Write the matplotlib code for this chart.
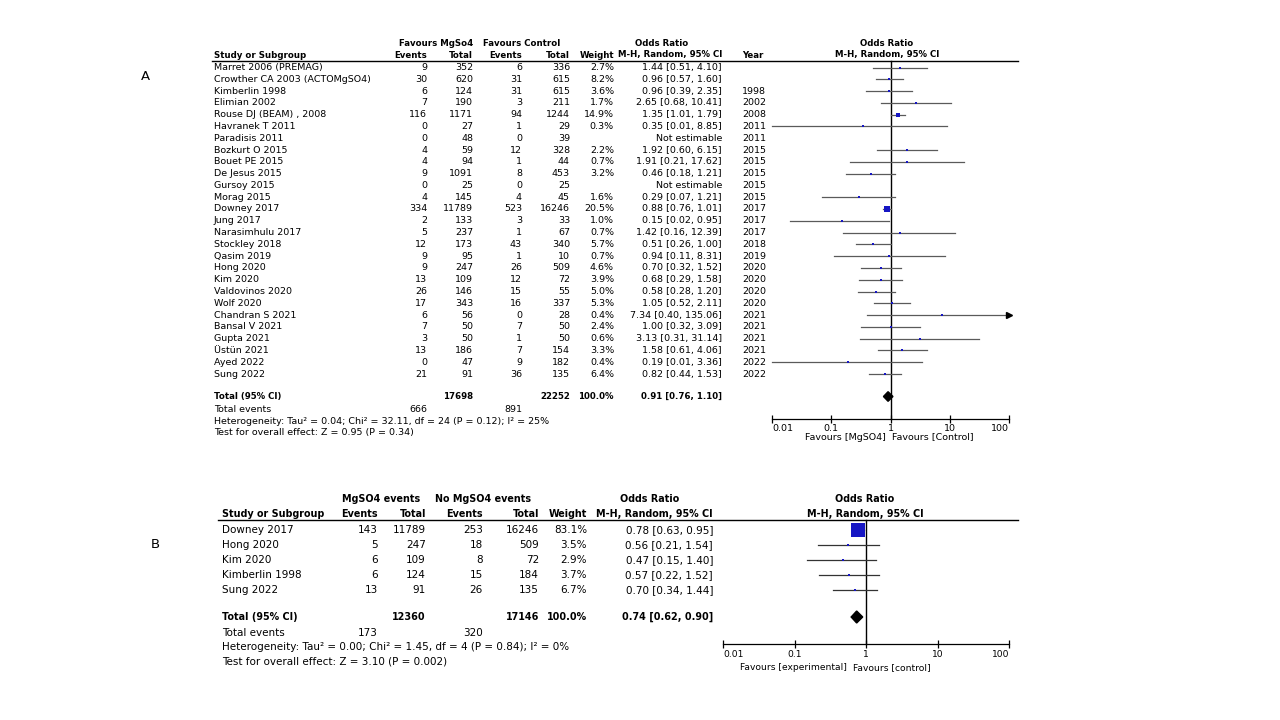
import numpy as np
import matplotlib
matplotlib.use("Agg")
import matplotlib.pyplot as plt

plt.rcParams['font.family'] = ['DejaVu Sans']

# ---------------- panel A data ----------------
names_a = ["Marret 2006 (PREMAG)", "Crowther CA 2003 (ACTOMgSO4)", "Kimberlin 1998", "Elimian 2002",
           "Rouse DJ (BEAM) , 2008", "Havranek T 2011", "Paradisis 2011", "Bozkurt O 2015", "Bouet PE 2015",
           "De Jesus 2015", "Gursoy 2015", "Morag 2015", "Downey 2017", "Jung 2017", "Narasimhulu 2017",
           "Stockley 2018", "Qasim 2019", "Hong 2020", "Kim 2020", "Valdovinos 2020", "Wolf 2020",
           "Chandran S 2021", "Bansal V 2021", "Gupta 2021", "Üstün 2021", "Ayed 2022", "Sung 2022"]
ev_mg_a = [9, 30, 6, 7, 116, 0, 0, 4, 4, 9, 0, 4, 334, 2, 5, 12, 9, 9, 13, 26, 17, 6, 7, 3, 13, 0, 21]
tot_mg_a = [352, 620, 124, 190, 1171, 27, 48, 59, 94, 1091, 25, 145, 11789, 133, 237, 173, 95, 247, 109,
            146, 343, 56, 50, 50, 186, 47, 91]
ev_ct_a = [6, 31, 31, 3, 94, 1, 0, 12, 1, 8, 0, 4, 523, 3, 1, 43, 1, 26, 12, 15, 16, 0, 7, 1, 7, 9, 36]
tot_ct_a = [336, 615, 615, 211, 1244, 29, 39, 328, 44, 453, 25, 45, 16246, 33, 67, 340, 10, 509, 72, 55,
            337, 28, 50, 50, 154, 182, 135]
weight_a = [2.7, 8.2, 3.6, 1.7, 14.9, 0.3, None, 2.2, 0.7, 3.2, None, 1.6, 20.5, 1.0, 0.7, 5.7, 0.7, 4.6,
            3.9, 5.0, 5.3, 0.4, 2.4, 0.6, 3.3, 0.4, 6.4]
or_a = [1.44, 0.96, 0.96, 2.65, 1.35, 0.35, None, 1.92, 1.91, 0.46, None, 0.29, 0.88, 0.15, 1.42, 0.51,
        0.94, 0.70, 0.68, 0.58, 1.05, 7.34, 1.00, 3.13, 1.58, 0.19, 0.82]
lo_a = [0.51, 0.57, 0.39, 0.68, 1.01, 0.01, None, 0.60, 0.21, 0.18, None, 0.07, 0.76, 0.02, 0.16, 0.26,
        0.11, 0.32, 0.29, 0.28, 0.52, 0.40, 0.32, 0.31, 0.61, 0.01, 0.44]
hi_a = [4.10, 1.60, 2.35, 10.41, 1.79, 8.85, None, 6.15, 17.62, 1.21, None, 1.21, 1.01, 0.95, 12.39, 1.00,
        8.31, 1.52, 1.58, 1.20, 2.11, 135.06, 3.09, 31.14, 4.06, 3.36, 1.53]
years_a = ["", "", "1998", "2002", "2008", "2011", "2011", "2015", "2015", "2015", "2015", "2015", "2017",
           "2017", "2017", "2018", "2019", "2020", "2020", "2020", "2020", "2021", "2021", "2021", "2021",
           "2022", "2022"]
total_a = {"n_mg": 17698, "n_ct": 22252, "ev_mg": 666, "ev_ct": 891, "or": 0.91, "lo": 0.76, "hi": 1.10}
het_a = "Heterogeneity: Tau² = 0.04; Chi² = 32.11, df = 24 (P = 0.12); I² = 25%"
test_a = "Test for overall effect: Z = 0.95 (P = 0.34)"

# ---------------- panel B data ----------------
names_b = ["Downey 2017", "Hong 2020", "Kim 2020", "Kimberlin 1998", "Sung 2022"]
ev_mg_b = [143, 5, 6, 6, 13]
tot_mg_b = [11789, 247, 109, 124, 91]
ev_ct_b = [253, 18, 8, 15, 26]
tot_ct_b = [16246, 509, 72, 184, 135]
weight_b = [83.1, 3.5, 2.9, 3.7, 6.7]
or_b = [0.78, 0.56, 0.47, 0.57, 0.70]
lo_b = [0.63, 0.21, 0.15, 0.22, 0.34]
hi_b = [0.95, 1.54, 1.40, 1.52, 1.44]
total_b = {"n_mg": 12360, "n_ct": 17146, "ev_mg": 173, "ev_ct": 320, "or": 0.74, "lo": 0.62, "hi": 0.90}
het_b = "Heterogeneity: Tau² = 0.00; Chi² = 1.45, df = 4 (P = 0.84); I² = 0%"
test_b = "Test for overall effect: Z = 3.10 (P = 0.002)"

ticks = [0.01, 0.1, 1, 10, 100]
blue = '#1616c4'

fig = plt.figure(figsize=(12.8, 7.2), dpi=100)
tx = fig.add_axes([0, 0, 1, 1])
tx.set_xlim(0, 1280)
tx.set_ylim(720, 0)
tx.axis('off')


def fmt_ci(e, l, h):
    if e is None:
        return "Not estimable"
    return f"{e:.2f} [{l:.2f}, {h:.2f}]"


def forest(cfg, names, ev_mg, tot_mg, ev_ct, tot_ct, weight, ors, los, his, total, het, test, years=None):
    fs = cfg['fs']
    c = cfg['cols']
    y0, dy = cfg['y0'], cfg['dy']
    b = dict(fontsize=fs * 0.92, fontweight='bold', va='center')
    r = dict(fontsize=fs, va='center')
    ra = dict(fontsize=cfg['fs_axis'], va='center')

    # headers
    tx.text(c['grp1'], cfg['h1'], cfg['grp1_label'], ha='center', **b)
    tx.text(c['grp2'], cfg['h1'], cfg['grp2_label'], ha='center', **b)
    tx.text(c['or_head'], cfg['h1'], "Odds Ratio", ha='center', **b)
    tx.text(c['plot_head'], cfg['h1'], "Odds Ratio", ha='center', **b)
    tx.text(c['name'], cfg['h2'], "Study or Subgroup", ha='left', **b)
    tx.text(c['ev1'], cfg['h2'], "Events", ha='right', **b)
    tx.text(c['tot1'], cfg['h2'], "Total", ha='right', **b)
    tx.text(c['ev2'], cfg['h2'], "Events", ha='right', **b)
    tx.text(c['tot2'], cfg['h2'], "Total", ha='right', **b)
    tx.text(c['w'], cfg['h2'], "Weight", ha='right', **b)
    tx.text(c['ci'], cfg['h2'], "M-H, Random, 95% CI", ha='right', **b)
    tx.text(c['plot_head'], cfg['h2'], "M-H, Random, 95% CI", ha='center', **b)
    if years is not None:
        tx.text(c['year'], cfg['h2'], "Year", ha='left', **b)
    tx.plot([cfg['line_x0'], 1018], [cfg['line_y']] * 2, color='black', lw=1)

    ys = [y0 + i * dy for i in range(len(names))]
    for i, y in enumerate(ys):
        tx.text(c['name'], y, names[i], ha='left', **r)
        tx.text(c['ev1'], y, str(ev_mg[i]), ha='right', **r)
        tx.text(c['tot1'], y, str(tot_mg[i]), ha='right', **r)
        tx.text(c['ev2'], y, str(ev_ct[i]), ha='right', **r)
        tx.text(c['tot2'], y, str(tot_ct[i]), ha='right', **r)
        if weight[i] is not None:
            tx.text(c['w'], y, f"{weight[i]:.1f}%", ha='right', **r)
        tx.text(c['ci'], y, fmt_ci(ors[i], los[i], his[i]), ha='right', **r)
        if years is not None:
            tx.text(c['year'], y, years[i], ha='left', **r)

    # totals
    yt = cfg['y_total']
    tx.text(c['name'], yt, "Total (95% CI)", ha='left', **b)
    tx.text(c['tot1'], yt, str(total['n_mg']), ha='right', **b)
    tx.text(c['tot2'], yt, str(total['n_ct']), ha='right', **b)
    tx.text(c['w'], yt, "100.0%", ha='right', **b)
    tx.text(c['ci'], yt, fmt_ci(total['or'], total['lo'], total['hi']), ha='right', **b)
    tx.text(c['name'], cfg['y_ev'], "Total events", ha='left', **r)
    tx.text(c['ev1'], cfg['y_ev'], str(total['ev_mg']), ha='right', **r)
    tx.text(c['ev2'], cfg['y_ev'], str(total['ev_ct']), ha='right', **r)
    tx.text(c['name'], cfg['y_het'], het, ha='left', **r)
    tx.text(c['name'], cfg['y_test'], test, ha='left', **r)

    # plot area
    x0, x1 = cfg['px']
    ax = fig.add_axes([x0 / 1280, 0, (x1 - x0) / 1280, 1])
    ax.set_xscale('log')
    ax.set_xlim(0.01, 100)
    ax.set_ylim(720, 0)
    ax.patch.set_visible(False)
    for s in ['left', 'right', 'top']:
        ax.spines[s].set_visible(False)
    ax.spines['bottom'].set_position(('data', cfg['axis_y']))
    ax.spines['bottom'].set_linewidth(0.9)
    ax.set_yticks([])
    ax.set_xticks(ticks)
    ax.set_xticklabels([f"{t:g}" for t in ticks], fontsize=cfg['fs_axis'])
    ax.xaxis.set_minor_locator(matplotlib.ticker.NullLocator())
    ax.tick_params(axis='x', direction='inout', length=6, width=0.9, pad=1)
    labs = ax.get_xticklabels()
    labs[0].set_ha('left')
    labs[-1].set_ha('right')

    ax.plot([1, 1], [cfg['line_y'], cfg['axis_y']], color='black', lw=1)

    for i, y in enumerate(ys):
        if ors[i] is None:
            continue
        hi = min(his[i], 100)
        ax.plot([los[i], hi], [y, y], color=cfg['ci_col'], lw=0.9, clip_on=False)
        if his[i] > 100:
            ax.plot([100], [y], marker='>', ms=4, color='black', clip_on=False)
        side = max(2.0, cfg['box_k'] * weight[i])
        ax.plot([ors[i]], [y], marker='s', ms=side * 0.72, color=blue, mew=0, zorder=3)

    h = cfg['dia_h']
    ax.fill([total['lo'], total['or'], total['hi'], total['or']], [yt, yt - h, yt, yt + h],
            color='black', zorder=3)

    tx.text(cfg['fav_mid'] - 3, cfg['fav_y'], cfg['fav_l'], ha='right', **ra)
    tx.text(cfg['fav_mid'] + 3, cfg['fav_y'], cfg['fav_r'], ha='left', **ra)


cfg_a = dict(fs=6.8, fs_axis=6.8, y0=67.5, dy=11.79, h1=43, h2=55, line_y=61, line_x0=212,
             y_total=396.5, y_ev=409, y_het=421, y_test=433, axis_y=418.5,
             px=(772, 1009), box_k=0.25, dia_h=4.8, fav_y=437, fav_mid=889, ci_col='#5a5a5a',
             fav_l="Favours [MgSO4]", fav_r="Favours [Control]",
             grp1_label="Favours MgSo4", grp2_label="Favours Control",
             cols=dict(name=214, ev1=427, tot1=473, ev2=522, tot2=570, w=614, ci=722, year=742,
                       grp1=436, grp2=522, or_head=662, plot_head=887))

cfg_b = dict(fs=7.5, fs_axis=6.6, y0=530, dy=14.9, h1=499, h2=514, line_y=520, line_x0=218,
             y_total=617, y_ev=632.5, y_het=647, y_test=662, axis_y=644,
             px=(723, 1009), box_k=0.16, dia_h=6, fav_y=668, fav_mid=850, ci_col='#333333',
             fav_l="Favours [experimental]", fav_r="Favours [control]",
             grp1_label="MgSO4 events", grp2_label="No MgSO4 events",
             cols=dict(name=222, ev1=378, tot1=426, ev2=483, tot2=539, w=587, ci=713, year=None,
                       grp1=381, grp2=483, or_head=650, plot_head=865))

forest(cfg_a, names_a, ev_mg_a, tot_mg_a, ev_ct_a, tot_ct_a, weight_a, or_a, lo_a, hi_a, total_a,
       het_a, test_a, years=years_a)
forest(cfg_b, names_b, ev_mg_b, tot_mg_b, ev_ct_b, tot_ct_b, weight_b, or_b, lo_b, hi_b, total_b,
       het_b, test_b)

tx.text(145, 77, "A", fontsize=9.5, va='center', ha='center')
tx.text(155, 545, "B", fontsize=9.5, va='center', ha='center')

fig.savefig("out.png", dpi=100, facecolor='white')
